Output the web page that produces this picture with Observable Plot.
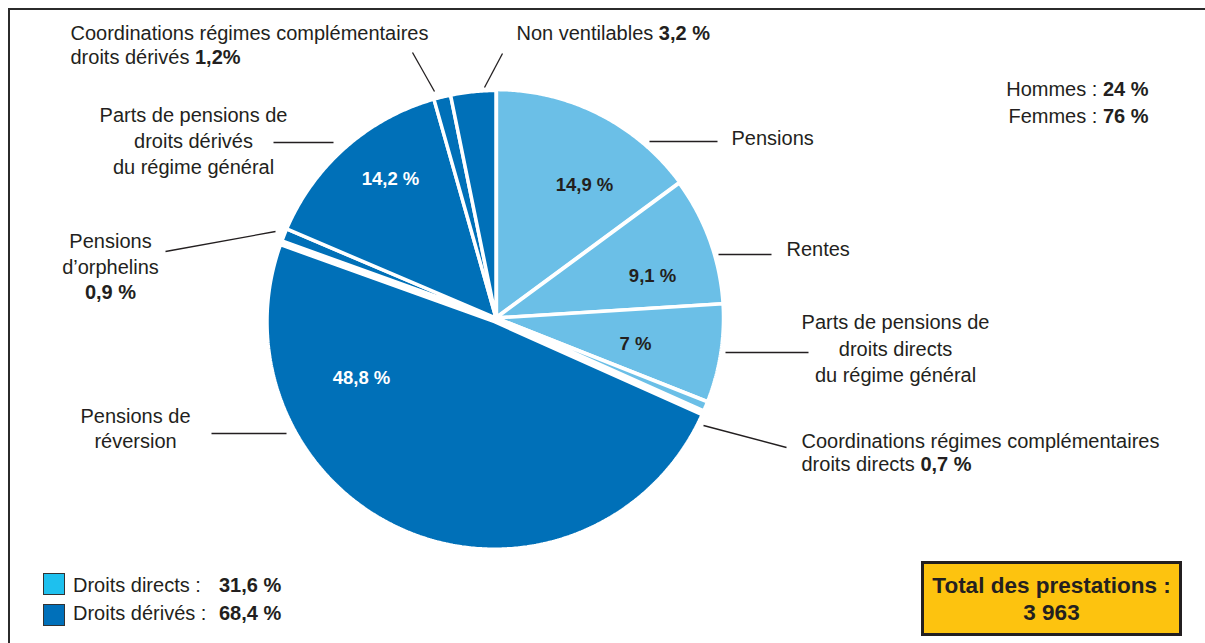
<!DOCTYPE html>
<html>
<head>
<meta charset="utf-8">
<script src="https://cdn.jsdelivr.net/npm/d3@7"></script>
<script src="https://cdn.jsdelivr.net/npm/@observablehq/plot@0.6"></script>
<style>
  html, body { margin:0; padding:0; background:#fff; }
  body { width:1205px; height:643px; overflow:hidden; position:relative; font-family:"Liberation Sans", Arial, sans-serif; color:#231f20; }
  #chart { position:absolute; left:0; top:0; }
  #frame { position:absolute; left:8px; top:8px; width:1400px; height:800px; border-top:2px solid #2b2b2b; border-left:2px solid #2b2b2b; pointer-events:none; }
  .sw { position:absolute; width:22px; height:22px; box-sizing:border-box; border:1.5px solid #333; }
  .lg { position:absolute; font-size:20px; line-height:24px; white-space:nowrap; }
  #total { position:absolute; left:921px; top:561px; width:261px; height:75px; box-sizing:border-box; border:3px solid #231f20; background:#fdc30f; display:flex; flex-direction:column; justify-content:center; align-items:center; font-weight:bold; font-size:22.5px; line-height:27px; }
</style>
</head>
<body>
<div id="chart"></div>
<div id="frame"></div>
<div id="legend"></div>
<div id="total"></div>
<script>
// ---- Data ----
const categories = [
  "Pensions",
  "Rentes",
  "Parts de pensions de droits directs du régime général",
  "Coordinations régimes complémentaires droits directs",
  "Pensions de réversion",
  "Pensions d’orphelins",
  "Parts de pensions de droits dérivés du régime général",
  "Coordinations régimes complémentaires droits dérivés",
  "Non ventilables"
];
const shares = [14.9, 9.1, 7.0, 0.7, 48.8, 0.9, 14.2, 1.2, 3.2];
const groups = ["Droits directs","Droits directs","Droits directs","Droits directs",
                "Droits dérivés","Droits dérivés","Droits dérivés","Droits dérivés","Droits dérivés"];
const valueLabels = ["14,9 %","9,1 %","7 %","0,7 %","48,8 %","0,9 %","14,2 %","1,2%","3,2 %"];
const groupNames = ["Droits directs","Droits dérivés"];
const groupTotals = [31.6, 68.4];
const genderLabels = ["Hommes","Femmes"];
const genderShares = [24, 76];
const totalPrestations = 3963;

// ---- Layout (presentation only) ----
const W = 1205, H = 643;
const cx = 495.5, cy = 317.5, R = 227.5;
const explode = [1,0,0,0,4,0,0,0,0];
const sliceColors = ["#6bbfe7", "#0070b8"];
const ink = "#231f20";
const fr = v => String(v).replace(".", ",");

// slices from d3.pie
const arcs = d3.pie().sort(null).value(d => d)(shares);
const slicePts = [];
arcs.forEach((a, i) => {
  const mid = (a.startAngle + a.endAngle) / 2;
  const ox = cx + explode[i] * Math.sin(mid), oy = cy - explode[i] * Math.cos(mid);
  const base = {name: categories[i], group: groups[i]};
  slicePts.push({...base, x: ox, y: oy});
  const n = Math.max(4, Math.ceil((a.endAngle - a.startAngle) / 0.008));
  for (let k = 0; k <= n; k++) {
    const t = a.startAngle + (a.endAngle - a.startAngle) * k / n;
    slicePts.push({...base, x: ox + R * Math.sin(t), y: oy - R * Math.cos(t)});
  }
  slicePts.push({...base, x: ox, y: oy});
});

// inside value labels
const inside = [
  {i:0, x:584, y:185}, {i:1, x:652, y:276}, {i:2, x:635, y:344},
  {i:4, x:361, y:378}, {i:6, x:390, y:179}
].map(d => ({...d, text: valueLabels[d.i], group: groups[d.i]}));

// outside label lines (§ marks the start of the bold part)
const lines = [
  {t:"Coordinations régimes complémentaires", x:70, y:33, a:"start"},
  {t:`droits dérivés §${valueLabels[7]}`, x:70, y:57.5, a:"start"},
  {t:`Non ventilables §${valueLabels[8]}`, x:516, y:33, a:"start"},
  {t:`${genderLabels[0]} : §${genderShares[0]} %`, x:1148, y:89, a:"end"},
  {t:`${genderLabels[1]} : §${genderShares[1]} %`, x:1148, y:116, a:"end"},
  {t:"Pensions", x:731, y:138, a:"start"},
  {t:"Parts de pensions de", x:193, y:115, a:"middle"},
  {t:"droits dérivés", x:193, y:141, a:"middle"},
  {t:"du régime général", x:193, y:167, a:"middle"},
  {t:"Rentes", x:786, y:249, a:"start"},
  {t:"Pensions", x:110, y:241, a:"middle"},
  {t:"d’orphelins", x:110, y:267, a:"middle"},
  {t:`§${valueLabels[5]}`, x:110, y:292, a:"middle"},
  {t:"Parts de pensions de", x:895, y:322, a:"middle"},
  {t:"droits directs", x:895, y:349, a:"middle"},
  {t:"du régime général", x:895, y:375, a:"middle"},
  {t:"Pensions de", x:135, y:416, a:"middle"},
  {t:"réversion", x:135, y:441.5, a:"middle"},
  {t:"Coordinations régimes complémentaires", x:801, y:441, a:"start"},
  {t:`droits directs §${valueLabels[3]}`, x:801, y:464.5, a:"start"}
];

const leaders = [
  {x1:412, y1:52, x2:434, y2:91},
  {x1:502, y1:53, x2:484, y2:87},
  {x1:649, y1:141, x2:717, y2:141},
  {x1:273, y1:142, x2:333, y2:142},
  {x1:718, y1:254, x2:771, y2:254},
  {x1:165, y1:251, x2:275, y2:231},
  {x1:725, y1:352, x2:808, y2:352},
  {x1:211, y1:433, x2:286, y2:433},
  {x1:703, y1:425, x2:786, y2:447}
];

const textMark = anchor => Plot.text(lines.filter(d => d.a === anchor), {
  x:"x", y:"y", text:"t", textAnchor: anchor, lineAnchor:"middle",
  fontSize:20, fill: ink
});

const svg = Plot.plot({
  width: W, height: H, margin: 0,
  style: {background: "transparent", fontFamily: "'Liberation Sans', Arial, sans-serif"},
  x: {domain:[0, W], range:[0, W], axis:null},
  y: {domain:[0, H], range:[0, H], axis:null},
  color: {domain: groupNames, range: sliceColors},
  marks: [
    Plot.line(slicePts, {x:"x", y:"y", z:"name", fill:"group", stroke:"white", strokeWidth:3.5, strokeLinejoin:"miter", curve:"linear"}),
    Plot.text(inside.filter(d => d.group === groupNames[0]), {x:"x", y:"y", text:"text", fontSize:18.5, fontWeight:"bold", fill: ink}),
    Plot.text(inside.filter(d => d.group === groupNames[1]), {x:"x", y:"y", text:"text", fontSize:18.5, fontWeight:"bold", fill: "white"}),
    Plot.link(leaders, {x1:"x1", y1:"y1", x2:"x2", y2:"y2", stroke: ink, strokeWidth:1.3}),
    textMark("start"), textMark("middle"), textMark("end")
  ]
});

// split "§" into regular + bold tspans
d3.select(svg).selectAll("text").each(function() {
  const el = this;
  if (el.children.length === 0 && el.textContent.includes("§")) {
    const [reg, bold] = el.textContent.split("§");
    el.textContent = "";
    const s = d3.select(el);
    if (reg) s.append("tspan").text(reg);
    s.append("tspan").attr("font-weight", "bold").text(bold);
  }
});
document.getElementById("chart").appendChild(svg);

// legend
const legend = document.getElementById("legend");
const swColors = ["#1ec0ee", "#0070ba"];
const swTops = [573, 604];
const txtTops = [573, 601];
groupNames.forEach((g, i) => {
  const sw = document.createElement("div");
  sw.className = "sw";
  sw.style.left = "43px"; sw.style.top = swTops[i] + "px"; sw.style.background = swColors[i];
  legend.appendChild(sw);
  const t = document.createElement("div");
  t.className = "lg"; t.style.left = "73px"; t.style.top = txtTops[i] + "px";
  t.textContent = g + " :";
  legend.appendChild(t);
  const v = document.createElement("div");
  v.className = "lg"; v.style.left = "219px"; v.style.top = txtTops[i] + "px"; v.style.fontWeight = "bold";
  v.textContent = fr(groupTotals[i]) + " %";
  legend.appendChild(v);
});

// total box
const total = document.getElementById("total");
total.innerHTML = `<div>Total des prestations :</div><div>${d3.format(",")(totalPrestations).replace(/,/g, " ")}</div>`;
</script>
</body>
</html>
